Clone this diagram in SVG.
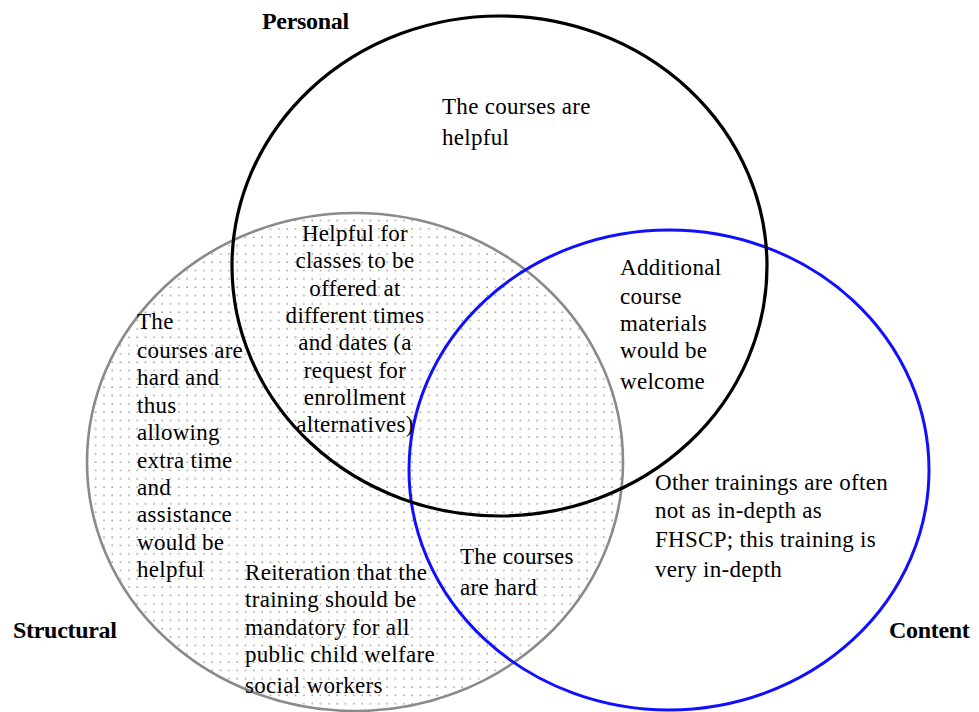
<svg xmlns="http://www.w3.org/2000/svg" width="979" height="712" viewBox="0 0 979 712">
  <defs>
    <pattern id="dots" x="2" y="2" width="8.33" height="8.33" patternUnits="userSpaceOnUse">
      <circle cx="2" cy="2" r="0.85" fill="#9a9a9a"/>
    </pattern>
  </defs>
  <style>
    .ring { fill: none; }
    .body { font-family: "Liberation Serif", "Times New Roman", serif; font-size: 23px; fill: #000; letter-spacing: 0.3px; }
    .label { font-family: "Liberation Serif", "Times New Roman", serif; font-size: 24px; font-weight: bold; fill: #000; letter-spacing: -0.3px; }
    .mid { text-anchor: middle; }
  </style>
  <rect width="979" height="712" fill="#fff"/>

  <!-- Structural set: dotted fill -->
  <g id="structural">
    <ellipse cx="355" cy="462" rx="268" ry="249" fill="#fff"/>
    <ellipse cx="355" cy="462" rx="268" ry="249" fill="url(#dots)" stroke="#8a8a8a" stroke-width="2.6"/>
    <text class="label" x="13" y="638">Structural</text>
  </g>

  <!-- Content set -->
  <g id="content">
    <ellipse class="ring" cx="669" cy="470" rx="260" ry="240" stroke="#1010ff" stroke-width="3"/>
    <text class="label" x="889" y="638">Content</text>
  </g>

  <!-- Personal set -->
  <g id="personal">
    <ellipse class="ring" cx="499.5" cy="266" rx="267.5" ry="250" stroke="#000" stroke-width="3.2"/>
    <text class="label" x="262" y="29">Personal</text>
  </g>

  <!-- Region statements -->
  <g id="personal-only">
    <text class="body" x="442" y="114">The courses are</text>
    <text class="body" x="442" y="145">helpful</text>
  </g>

  <g id="personal-structural">
    <text class="body mid" x="355" y="241">Helpful for</text>
    <text class="body mid" x="355" y="268">classes to be</text>
    <text class="body mid" x="355" y="296">offered at</text>
    <text class="body mid" x="355" y="323">different times</text>
    <text class="body mid" x="355" y="350">and dates (a</text>
    <text class="body mid" x="355" y="378">request for</text>
    <text class="body mid" x="355" y="405">enrollment</text>
    <text class="body mid" x="355" y="432">alternatives)</text>
  </g>

  <g id="structural-hard">
    <text class="body" x="137" y="329">The</text>
    <text class="body" x="137" y="358">courses are</text>
    <text class="body" x="137" y="385">hard and</text>
    <text class="body" x="137" y="413">thus</text>
    <text class="body" x="137" y="440">allowing</text>
    <text class="body" x="137" y="468">extra time</text>
    <text class="body" x="137" y="495">and</text>
    <text class="body" x="137" y="522">assistance</text>
    <text class="body" x="137" y="550">would be</text>
    <text class="body" x="137" y="577">helpful</text>
  </g>

  <g id="structural-mandatory">
    <text class="body" x="245" y="580">Reiteration that the</text>
    <text class="body" x="245" y="607">training should be</text>
    <text class="body" x="245" y="635">mandatory for all</text>
    <text class="body" x="245" y="662">public child welfare</text>
    <text class="body" x="245" y="693">social workers</text>
  </g>

  <g id="structural-content">
    <text class="body" x="460" y="564">The courses</text>
    <text class="body" x="460" y="595">are hard</text>
  </g>

  <g id="personal-content">
    <text class="body" x="620" y="275">Additional</text>
    <text class="body" x="620" y="304">course</text>
    <text class="body" x="620" y="331">materials</text>
    <text class="body" x="620" y="358">would be</text>
    <text class="body" x="620" y="389">welcome</text>
  </g>

  <g id="content-only">
    <text class="body" x="655" y="490">Other trainings are often</text>
    <text class="body" x="655" y="518">not as in-depth as</text>
    <text class="body" x="655" y="547">FHSCP; this training is</text>
    <text class="body" x="655" y="577">very in-depth</text>
  </g>
</svg>
